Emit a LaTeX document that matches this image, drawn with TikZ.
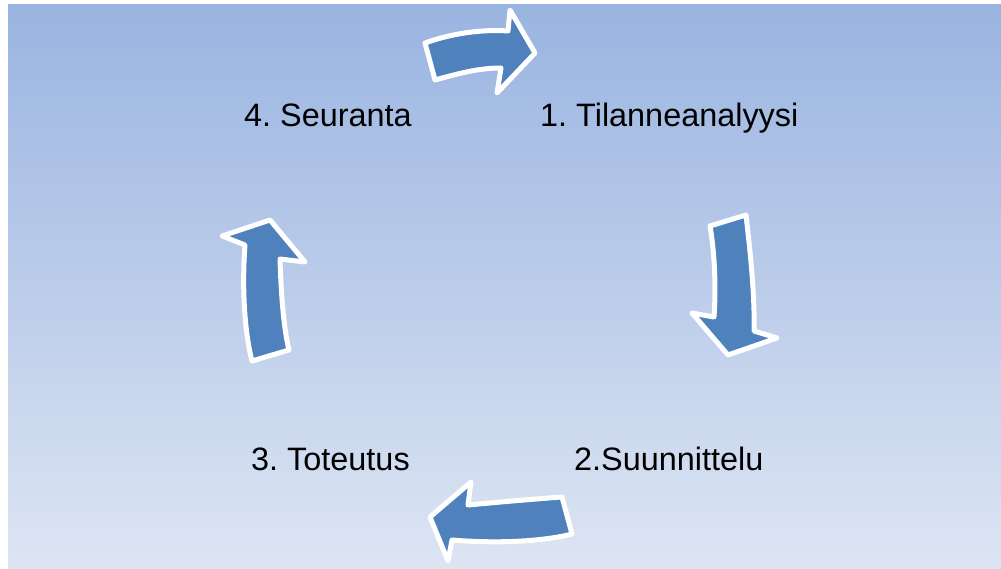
\documentclass[tikz,border=0pt]{standalone}
\usepackage{fontspec}
\setmainfont{Liberation Sans}
\frenchspacing
\begin{document}
\begin{tikzpicture}[x=1pt,y=-1pt,
  cyclearrow/.style={fill=arrowblue,draw=white,line width=5pt,line join=round},
  steplabel/.style={anchor=base west,inner sep=0pt,font=\fontsize{32.4}{38}\selectfont,text=black}]
\definecolor{arrowblue}{HTML}{4F81BD}
\definecolor{bgtop}{HTML}{9AB4E1}
\definecolor{bgbottom}{HTML}{DDE5F3}
\useasboundingbox (0,0) rectangle (1001,569);
% background panel
\fill[white] (0,0) rectangle (1001,569);
\shade[top color=bgtop,bottom color=bgbottom] (8,5) rectangle (1001,569);

% step labels
\node[steplabel] (seuranta) at (244,127) {4. Seuranta};
\node[steplabel] (tilanne) at (540,127) {1. Tilanneanalyysi};
\node[steplabel] (toteutus) at (251,470) {3. Toteutus};
\node[steplabel] (suunnittelu) at (574,470) {2.Suunnittelu};

% top arrow (4 -> 1)
\draw[cyclearrow] (425,43) .. controls (450,34) and (480,29) .. (508,31)
  -- (510,10) -- (535,53) -- (497,93) -- (501,68)
  .. controls (480,68) and (460,73) .. (435,80) -- cycle;

% right arrow (1 -> 2)
\draw[cyclearrow] (710,226) -- (746,215)
  .. controls (750,250) and (755,295) .. (754,331)
  -- (777,338) -- (728,355) -- (692,313) -- (714,317)
  .. controls (716,290) and (715,255) .. (710,226) -- cycle;

% bottom arrow (2 -> 3)
\draw[cyclearrow] (562,497) -- (572,534)
  .. controls (545,541) and (500,544) .. (452,540)
  -- (448,561) -- (430,517) -- (471,482) -- (468,505)
  .. controls (500,502) and (535,499) .. (562,497) -- cycle;

% left arrow (3 -> 4)
\draw[cyclearrow] (289,350) -- (252,361)
  .. controls (244,330) and (242,285) .. (245,245)
  -- (222,236) -- (270,220) -- (305,262) -- (280,259)
  .. controls (281,290) and (283,325) .. (289,350) -- cycle;
\end{tikzpicture}
\end{document}
